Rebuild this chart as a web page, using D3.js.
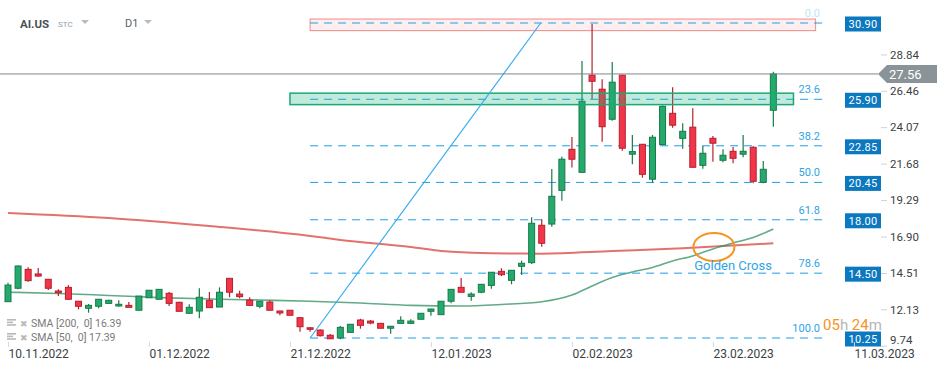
<!DOCTYPE html>
<html>
<head>
<meta charset="utf-8">
<script src="https://cdn.jsdelivr.net/npm/d3@7"></script>
<style>
  body { margin: 0; background: #fff; }
  #chart { width: 949px; height: 370px; }
  text { font-family: Roboto, "Noto Sans", sans-serif; }
</style>
</head>
<body>
<div id="chart"></div>
<script>
// Daily candles for AI.US, one per trading day starting 10.11.2022
const opens = [12.63, 13.51, 14.75, 14.45, 14.10, 13.33, 13.57, 12.66, 12.20, 12.33,
  12.52, 12.35, 12.39, 12.07, 12.89, 12.79, 13.18, 12.59, 11.87, 12.02,
  12.72, 12.28, 14.16, 13.13, 12.74, 12.33, 12.61, 12.02, 12.07, 11.58,
  10.92, 10.77, 10.43, 10.25, 10.62, 11.43, 11.36, 11.21, 10.89, 11.21,
  11.21, 11.48, 12.00, 11.78, 12.66, 13.57, 12.98, 13.25, 13.70, 14.62,
  14.03, 14.95, 15.19, 17.64, 17.72, 19.93, 22.62, 21.11, 27.48, 26.56,
  24.59, 27.48, 22.30, 22.95, 20.66, 22.93, 24.98, 23.34, 24.07, 21.57,
  23.34, 21.90, 22.49, 22.30, 22.75, 20.46, 25.18];
const highs = [13.88, 15.00, 14.89, 14.84, 14.12, 13.44, 13.72, 12.68, 12.48, 12.80,
  12.75, 12.72, 12.61, 13.00, 13.40, 13.46, 13.27, 12.62, 12.46, 13.51,
  13.27, 13.57, 14.18, 13.35, 12.92, 12.68, 12.72, 12.04, 12.09, 11.60,
  10.95, 10.82, 10.51, 11.04, 11.17, 11.51, 11.43, 11.23, 11.02, 11.67,
  11.48, 11.89, 12.17, 12.68, 13.46, 14.18, 13.25, 13.79, 14.58, 14.82,
  14.71, 15.32, 18.16, 18.03, 21.33, 22.14, 23.43, 28.41, 30.84, 27.21,
  28.35, 27.50, 23.56, 22.97, 23.56, 25.50, 26.69, 24.33, 25.31, 22.84,
  23.50, 22.62, 22.77, 23.56, 22.82, 21.86, 27.71];
const lows = [12.63, 13.45, 13.94, 14.27, 13.40, 13.00, 12.75, 12.13, 11.91, 12.20,
  12.50, 12.30, 12.26, 12.05, 12.89, 12.79, 12.35, 12.00, 11.85, 11.54,
  12.24, 12.28, 12.92, 12.85, 12.39, 12.20, 12.07, 11.74, 11.74, 10.66,
  10.66, 10.35, 10.20, 10.16, 10.60, 10.86, 11.15, 10.89, 10.53, 11.21,
  11.19, 11.46, 11.71, 11.76, 12.52, 13.25, 12.69, 13.18, 13.48, 14.31,
  13.77, 14.38, 15.10, 16.24, 17.55, 19.25, 21.42, 21.09, 25.94, 23.12,
  24.50, 22.53, 21.64, 20.76, 20.43, 22.90, 24.04, 22.66, 21.44, 21.35,
  21.81, 21.77, 21.70, 22.10, 20.39, 20.40, 24.10];
const closes = [13.72, 14.97, 14.01, 14.31, 13.51, 13.22, 12.79, 12.33, 12.39, 12.79,
  12.72, 12.46, 12.26, 13.00, 13.38, 13.44, 12.52, 12.00, 12.26, 12.92,
  12.24, 13.25, 13.25, 12.96, 12.39, 12.66, 12.07, 11.89, 11.74, 10.99,
  10.82, 10.40, 10.20, 10.95, 11.15, 11.08, 11.23, 10.89, 11.02, 11.41,
  11.36, 11.87, 12.15, 12.66, 13.44, 13.25, 13.13, 13.77, 14.56, 14.40,
  14.69, 15.15, 17.77, 16.46, 19.54, 21.97, 21.97, 25.77, 27.08, 24.10,
  27.02, 22.69, 22.47, 20.98, 23.41, 25.44, 24.20, 23.80, 21.44, 22.36,
  23.02, 22.23, 22.03, 22.49, 20.52, 21.31, 27.56];

// Moving averages, read at a few candle positions
const sma200Idx = [0, 10, 20, 30, 33, 40, 43, 50, 53, 60, 67, 76];
const sma200Val = [18.45, 18.12, 17.59, 16.94, 16.68, 16.22, 15.96, 15.79, 15.78, 15.95, 16.13, 16.46];
const sma50Idx = [0, 5, 10, 15, 20, 25, 30, 35, 40, 45, 49, 53, 56, 58, 60, 62, 64, 66, 68, 70, 72, 74, 76];
const sma50Val = [13.25, 13.17, 13.04, 12.90, 12.81, 12.74, 12.66, 12.54, 12.39, 12.35, 12.45, 12.63,
  13.07, 13.66, 14.22, 14.58, 14.87, 15.30, 15.63, 16.09, 16.48, 16.84, 17.40];

// Fibonacci retracement levels
const fibLevels = [30.90, 25.90, 22.85, 20.45, 18.00, 14.50, 10.25];
const fibLabels = ["0.0", "23.6", "38.2", "50.0", "61.8", "78.6", "100.0"];

// Axis ticks
const yTicks = [28.84, 26.46, 24.07, 21.68, 19.29, 16.90, 14.51, 12.13, 9.74];
const dateIdx = [0, 14, 28, 42, 56, 70, 84];
const dateLabels = ["10.11.2022", "01.12.2022", "21.12.2022", "12.01.2023", "02.02.2023", "23.02.2023", "11.03.2023"];

const lastPrice = 27.56;

function candleChart(div) {

    let cvs = d3.select(div);
    cvs.html(null);

    let width = 949, height = 370;

    let svg = cvs.append("svg")
        .attr("width", width)
        .attr("height", height);

    // Index based x scale (one slot per trading day)
    let x = d3.scaleLinear()
        .domain([0, 84])
        .range([8, 853.9]);

    let y = d3.scaleLinear()
        .domain([10.25, 30.90])
        .range([338, 23]);

    // Header
    svg.append("text").text("AI.US")
        .attr("x", 20).attr("y", 28)
        .style("font-size", "11.5px").style("font-weight", "bold").attr("fill", "#4a5056");
    svg.append("text").text("STC")
        .attr("x", 58).attr("y", 27)
        .style("font-size", "8px").attr("fill", "#8fa0ad");
    svg.append("path").attr("d", "M81,20 L89,20 L85,24 Z").attr("fill", "#bbbbbb");
    svg.append("text").text("D1")
        .attr("x", 125).attr("y", 27)
        .style("font-size", "11px").attr("fill", "#5a6066");
    svg.append("path").attr("d", "M144,20 L152,20 L148,24 Z").attr("fill", "#bbbbbb");

    // Red resistance box at the top
    svg.append("rect")
        .attr("x", x(30)).attr("width", x(80.2) - x(30))
        .attr("y", y(31.16)).attr("height", y(30.40) - y(31.16))
        .attr("fill", "#fdeff0").attr("stroke", "#f08a8a").attr("stroke-width", 1);

    // Moving averages
    let line = d3.line()
        .x(function(d) { return x(d[0]); })
        .y(function(d) { return y(d[1]); })
        .curve(d3.curveMonotoneX);
    svg.append("path")
        .datum(d3.zip(sma200Idx, sma200Val))
        .attr("fill", "none")
        .attr("stroke", "#dc4f4a").attr("stroke-opacity", 0.8)
        .attr("stroke-width", 2)
        .attr("d", line);
    svg.append("path")
        .datum(d3.zip(sma50Idx, sma50Val))
        .attr("fill", "none")
        .attr("stroke", "#2f8f60").attr("stroke-opacity", 0.75)
        .attr("stroke-width", 1.6)
        .attr("d", line);

    // Fibonacci dashed levels and their labels
    for ( let i = 0; i < fibLevels.length; ++i ) {
        svg.append("line")
            .attr("x1", x(30)).attr("x2", x(81))
            .attr("y1", y(fibLevels[i])).attr("y2", y(fibLevels[i]))
            .attr("stroke", "#1d9ee6").attr("stroke-width", 1)
            .attr("stroke-dasharray", "8,6");
        svg.append("text").text(fibLabels[i])
            .attr("x", 820).attr("y", y(fibLevels[i]) - 6)
            .attr("text-anchor", "end")
            .style("font-size", "11px")
            .attr("fill", "#2ea4e6")
            .attr("opacity", i == 0 ? 0.3 : 1);
    }

    // Candles
    for ( let i = 0; i < opens.length; ++i ) {
        let up = closes[i] >= opens[i],
            fill = up ? "#26a96c" : "#f2364a",
            edge = up ? "#177a49" : "#b81f2d",
            top = y(Math.max(opens[i], closes[i])),
            bot = y(Math.min(opens[i], closes[i]));
        svg.append("line")
            .attr("x1", x(i)).attr("x2", x(i))
            .attr("y1", y(highs[i])).attr("y2", y(lows[i]))
            .attr("stroke", edge).attr("stroke-width", 1.2);
        svg.append("rect")
            .attr("x", x(i) - 3).attr("width", 6)
            .attr("y", top).attr("height", Math.max(1, bot - top))
            .attr("fill", fill).attr("stroke", edge).attr("stroke-width", 1);
    }

    // Green support box (see-through)
    svg.append("rect")
        .attr("x", x(28)).attr("width", x(78) - x(28))
        .attr("y", y(26.30)).attr("height", y(25.55) - y(26.30))
        .attr("fill", "#1db47e").attr("fill-opacity", 0.28)
        .attr("stroke", "#1aaa72").attr("stroke-width", 1.5);

    // Diagonal trend line used for the retracement
    svg.append("line")
        .attr("x1", x(30)).attr("y1", y(10.25))
        .attr("x2", x(52.9)).attr("y2", y(30.90))
        .attr("stroke", "#3aaef0").attr("stroke-width", 1.2);

    // Last price line and tag
    svg.append("line")
        .attr("x1", 0).attr("x2", 878)
        .attr("y1", y(lastPrice)).attr("y2", y(lastPrice))
        .attr("stroke", "#7d868c").attr("stroke-width", 1);
    let yp = y(lastPrice);
    svg.append("path")
        .attr("d", "M878," + yp + " L887," + (yp - 9) + " L937," + (yp - 9) +
            " L937," + (yp + 9) + " L887," + (yp + 9) + " Z")
        .attr("fill", "#8a9397");
    svg.append("text").text(lastPrice.toFixed(2))
        .attr("x", 889).attr("y", yp + 5)
        .style("font-size", "13px").attr("fill", "#fff");

    // Right axis
    let yAxis = svg.append("g")
        .attr("transform", "translate(881,0)")
        .call(d3.axisRight(y).tickValues(yTicks).tickSize(6).tickPadding(3)
            .tickFormat(function(d) { return d.toFixed(2); }));
    yAxis.select(".domain").remove();
    yAxis.selectAll("line").attr("stroke", "#cfd3d6");
    yAxis.selectAll("text")
        .style("font-size", "11.5px").attr("fill", "#3a3f44")
        .style("font-family", "Roboto, sans-serif")
        .attr("y", function(d) { return y(d) > 340 ? 340 - y(d) : 0; });

    // Blue level boxes
    for ( let i = 0; i < fibLevels.length; ++i ) {
        let yc = y(fibLevels[i]) + 1;
        svg.append("rect")
            .attr("x", 845).attr("y", yc - 7.5)
            .attr("width", 36).attr("height", 15)
            .attr("fill", "#0b78c0");
        svg.append("text").text(fibLevels[i].toFixed(2))
            .attr("x", 863).attr("y", yc + 4)
            .attr("text-anchor", "middle")
            .style("font-size", "11px").style("letter-spacing", "0.3px")
            .attr("fill", "#fff");
    }

    // Bottom date axis
    let xAxis = svg.append("g")
        .attr("transform", "translate(0,342)")
        .call(d3.axisBottom(x).tickValues(dateIdx).tickSize(5).tickPadding(2)
            .tickFormat(function(d, i) { return dateLabels[i]; }));
    xAxis.select(".domain").remove();
    xAxis.selectAll("line").attr("stroke", "#d5d9dc");
    xAxis.selectAll("text")
        .attr("text-anchor", "start")
        .style("font-size", "12px").attr("fill", "#3a3f44")
        .style("font-family", "Roboto, sans-serif");

    // Golden cross annotation
    svg.append("ellipse")
        .attr("cx", x(70.1)).attr("cy", y(16.22))
        .attr("rx", 20.5).attr("ry", 14)
        .attr("fill", "none").attr("stroke", "#f7941d").attr("stroke-width", 2);
    svg.append("text").text("Golden Cross")
        .attr("x", x(72)).attr("y", 270)
        .attr("text-anchor", "middle")
        .style("font-size", "13px").attr("fill", "#2ea4e6");

    // Countdown to the next candle
    let timer = svg.append("text")
        .attr("x", 823).attr("y", 330)
        .style("font-size", "15px");
    timer.append("tspan").text("05").attr("fill", "#f7941d");
    timer.append("tspan").text("h ").attr("fill", "#b5b5b5");
    timer.append("tspan").text("24").attr("fill", "#f7941d");
    timer.append("tspan").text("m").attr("fill", "#b5b5b5");

    // Indicator legend
    let legend = [["SMA [200,  0] 16.39", 323], ["SMA [50,  0] 17.39", 337]];
    for ( let i = 0; i < legend.length; ++i ) {
        let ly = legend[i][1];
        for ( let k = 0; k < 3; ++k ) {
            svg.append("rect")
                .attr("x", 7).attr("y", ly - 4 + k * 2.6)
                .attr("width", k == 1 ? 6 : 9).attr("height", 1.6)
                .attr("fill", "#b8b8b8");
        }
        svg.append("text").text("\u2716")
            .attr("x", 20).attr("y", ly + 3.5)
            .style("font-size", "9px").attr("fill", "#b8b8b8");
        svg.append("text").text(legend[i][0])
            .attr("x", 31).attr("y", ly + 4)
            .style("font-size", "10.5px").attr("fill", "#7a7a7a")
            .style("white-space", "pre");
    }
}

candleChart("#chart");
</script>
</body>
</html>
